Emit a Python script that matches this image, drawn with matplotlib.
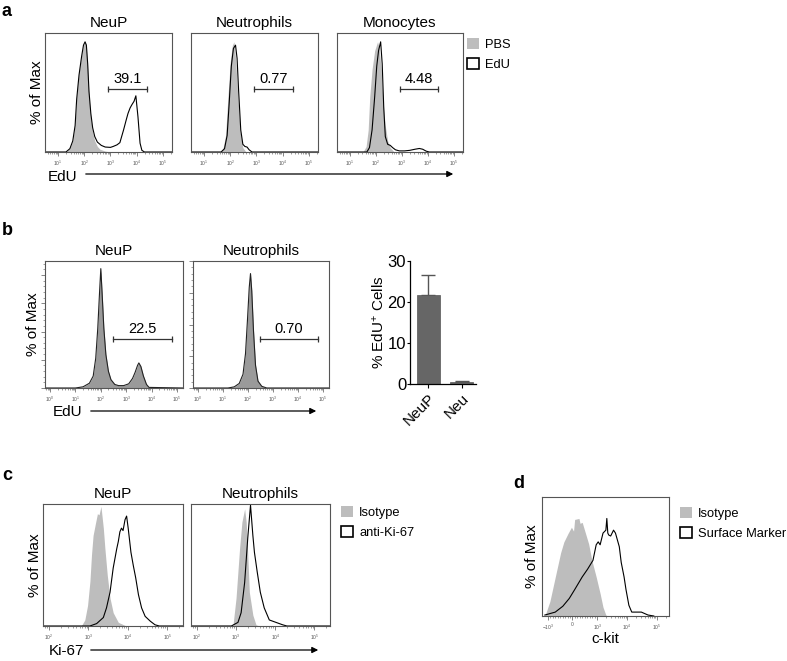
import numpy as np
import matplotlib
matplotlib.use("Agg")
import matplotlib.pyplot as plt
from matplotlib.patches import Patch
from matplotlib.ticker import FixedLocator, FixedFormatter, NullFormatter, MultipleLocator, AutoMinorLocator

plt.rcParams['font.family'] = ['Liberation Sans', 'DejaVu Sans']
plt.rcParams['mathtext.fontset'] = 'custom'
plt.rcParams['mathtext.rm'] = 'Liberation Sans'
plt.rcParams['mathtext.it'] = 'Liberation Sans:italic'
plt.rcParams['mathtext.bf'] = 'Liberation Sans:bold'

W, H = 787, 661

# ---- panel a: EdU (log10 position), % of max ----
a_neup_pbs_x = [0.5, 1.3, 1.45, 1.56, 1.65, 1.71, 1.8, 1.9, 1.97, 2.03, 2.08, 2.13, 2.18, 2.25, 2.32, 2.4, 2.5, 2.6, 2.8, 3.0, 5.35]
a_neup_pbs_y = [0, 0, 3, 10, 25, 50, 72, 88, 97, 100, 96, 78, 50, 30, 18, 10, 5, 2.5, 0.8, 0, 0]
a_neup_edu_x = [0.5, 1.3, 1.45, 1.56, 1.65, 1.71, 1.8, 1.9, 1.97, 2.03, 2.08, 2.13, 2.18, 2.25, 2.32, 2.4, 2.5, 2.65, 2.8, 3.0, 3.1, 3.25,
                3.36, 3.5, 3.6, 3.67, 3.75, 3.82, 3.9, 3.97, 4.05, 4.13, 4.2, 4.3, 5.35]
a_neup_edu_y = [0, 0, 3, 10, 24, 48, 70, 87, 97, 100, 97, 80, 55, 35, 22, 14, 9, 6, 4.5, 4.2, 5, 6.5,
                8.5, 20, 29, 35, 40, 43, 46, 51, 32, 8, 1.5, 0, 0]
a_neu_pbs_x = [0.5, 1.6, 1.72, 1.82, 1.91, 2.0, 2.08, 2.14, 2.2, 2.29, 2.38, 2.48, 2.6, 5.35]
a_neu_pbs_y = [0, 0, 3, 15, 50, 82, 97, 100, 85, 50, 18, 4, 0, 0]
a_neu_edu_x = [0.5, 1.65, 1.78, 1.88, 1.96, 2.04, 2.12, 2.2, 2.26, 2.32, 2.4, 2.48, 2.56, 2.64, 2.72, 2.83, 5.35]
a_neu_edu_y = [0, 0, 3, 15, 45, 78, 94, 97, 85, 55, 20, 7, 5, 4.5, 2, 0, 0]
a_mono_pbs_x = [0.5, 1.5, 1.62, 1.7, 1.76, 1.85, 1.95, 2.06, 2.12, 2.2, 2.26, 2.35, 2.45, 2.55, 2.7, 5.35]
a_mono_pbs_y = [0, 0, 5, 20, 50, 75, 92, 100, 95, 75, 50, 25, 10, 4, 0, 0]
a_mono_edu_x = [0.5, 1.65, 1.75, 1.85, 1.95, 2.03, 2.1, 2.18, 2.24, 2.3, 2.36, 2.45, 2.55, 2.64, 2.75, 2.9, 3.1, 3.3,
                3.5, 3.67, 3.8, 3.93, 4.05, 5.35]
a_mono_edu_y = [0, 0, 4, 20, 50, 78, 92, 100, 80, 40, 14, 7, 6, 4, 2, 1, 1, 1.5, 2.5, 3.2, 2.5, 0.8, 0, 0]
a_titles = ["NeuP", "Neutrophils", "Monocytes"]
a_gates = ["39.1", "0.77", "4.48"]

# ---- panel b ----
b_neup_x = [-0.2, 1.0, 1.3, 1.55, 1.7, 1.8, 1.88, 1.95, 2.0, 2.05, 2.12, 2.2, 2.3, 2.4, 2.55, 2.7, 2.9, 3.1, 3.25,
            3.35, 3.45, 3.5, 3.58, 3.68, 3.8, 3.9, 5.24]
b_neup_y = [0, 0, 1, 4, 10, 25, 50, 80, 100, 80, 50, 28, 14, 7, 3, 2, 2, 3.5, 8, 13, 19, 21, 18, 10, 3, 0.5, 0]
b_neu_x = [-0.2, 1.2, 1.45, 1.65, 1.8, 1.9, 1.98, 2.05, 2.1, 2.15, 2.22, 2.3, 2.4, 2.55, 2.75, 5.24]
b_neu_y = [0, 0, 1, 4, 12, 30, 60, 88, 100, 85, 50, 20, 6, 1.5, 0, 0]
b_titles = ["NeuP", "Neutrophils"]
b_gates = ["22.5", "0.70"]
bar_labels = ["NeuP", "Neu"]
bar_values = [21.7, 0.6]
bar_errors = [4.9, 0.25]

# ---- panel c: Ki-67 ----
c_neup_iso_x = [1.85, 2.82, 2.91, 2.98, 3.04, 3.08, 3.12, 3.18, 3.23, 3.27, 3.32, 3.38, 3.42, 3.48, 3.55, 3.63, 3.76, 3.93, 4.05, 5.4]
c_neup_iso_y = [0, 0, 5, 17, 37, 59, 75, 85, 93, 92, 99, 81, 64, 42, 23, 11, 3, 0.5, 0, 0]
c_neup_ki_x = [1.85, 3.04, 3.21, 3.38, 3.46, 3.55, 3.63, 3.72, 3.76, 3.8, 3.84, 3.88, 3.93, 3.97, 4.01, 4.08, 4.14,
               4.2, 4.27, 4.35, 4.44, 4.57, 4.69, 4.8, 5.4]
c_neup_ki_y = [0, 0, 2, 7, 15, 28, 48, 64, 70, 78, 81, 79, 88, 91, 81, 61, 50, 40, 26, 15, 8, 4, 1, 0, 0]
c_neu_iso_x = [1.85, 2.92, 3.0, 3.09, 3.15, 3.22, 3.26, 3.3, 3.34, 3.43, 3.51, 3.6, 5.4]
c_neu_iso_y = [0, 0, 23, 64, 86, 97, 86, 59, 28, 9, 1, 0, 0]
c_neu_ki_x = [1.85, 2.88, 3.05, 3.13, 3.22, 3.3, 3.37, 3.43, 3.47, 3.54, 3.62, 3.72, 3.85, 4.02, 4.19, 4.3, 5.4]
c_neu_ki_y = [0, 0, 3, 11, 36, 73, 100, 75, 61, 45, 28, 15, 5, 3, 1, 0, 0]
c_titles = ["NeuP", "Neutrophils"]

# ---- panel d: c-kit (fluorescence), % of max ----
d_iso_x = [-1250, -913, -696, -478, -348, -174, -43, 43, 87, 261, 304, 391, 522, 652, 783, 957, 1250, 1563, 1950, 2265]
d_iso_y = [0, 15, 40, 65, 76, 85, 91, 87, 99, 100, 95, 96, 85, 74, 57, 40, 23, 9, 1, 0]
d_sm_x = [-1250, -696, -391, -130, 87, 391, 609, 826, 957, 1077, 1250, 1563, 1950, 2100, 2265, 2440, 2830, 3530, 4100,
          5520, 6400, 8000, 9290, 11600, 14500, 30500, 51000, 80000]
d_sm_y = [1, 4, 10, 18, 27, 40, 48, 57, 73, 76, 73, 85, 88, 100, 85, 83, 82, 88, 85,
          71, 55, 40, 27, 11, 4, 4, 1, 0]

ISO_GRAY = '#bdbdbd'
B_GRAY = '#9a9a9a'
SPINE = '#555555'


def px_rect(x0, y0, x1, y1):
    return [x0 / W, 1 - y1 / H, (x1 - x0) / W, (y1 - y0) / H]


def flow_axes(fig, rect, xlo, xhi, decades, ylim):
    ax = fig.add_axes(px_rect(*rect))
    ax.set_xscale('log')
    ax.set_xlim(10 ** xlo, 10 ** xhi)
    ax.set_ylim(0, ylim)
    ax.xaxis.set_major_locator(FixedLocator([10.0 ** d for d in decades]))
    ax.xaxis.set_major_formatter(FixedFormatter([r'$10^{%d}$' % d for d in decades]))
    minors = [m * 10.0 ** d for d in range(-1, 6) for m in range(2, 10)]
    ax.xaxis.set_minor_locator(FixedLocator(minors))
    ax.xaxis.set_minor_formatter(NullFormatter())
    ax.tick_params(axis='x', which='major', length=3, width=0.5, labelsize=3.5, pad=1.5, colors=SPINE)
    ax.tick_params(axis='x', which='minor', length=1.5, width=0.4, colors=SPINE)
    ax.set_yticks([])
    for s in ax.spines.values():
        s.set_color(SPINE)
        s.set_linewidth(0.8)
    return ax


def gate(ax, x0, x1, y, label, dy=3):
    ax.plot([10 ** x0, 10 ** x1], [y, y], color='#333333', lw=0.9)
    ax.plot([10 ** x0, 10 ** x1], [y, y], ls='none', marker='|', ms=5, mew=0.9, color='#333333')
    ax.annotate(label, xy=(10 ** ((x0 + x1) / 2), y), xytext=(0, dy), textcoords='offset points',
                ha='center', va='bottom', fontsize=10.5)


def fig_arrow(fig, x0, x1, y):
    fig.add_artist(matplotlib.patches.FancyArrowPatch(
        (x0 / W, 1 - y / H), (x1 / W, 1 - y / H), transform=fig.transFigure,
        arrowstyle='-|>', mutation_scale=9, lw=0.9, color='black'))


fig = plt.figure(figsize=(W / 100, H / 100), dpi=100)

# ---------------- panel a ----------------
a_rects = [(45, 33, 172, 152), (191, 33, 318, 152), (337, 33, 463, 152)]
a_data = [(a_neup_pbs_x, a_neup_pbs_y, a_neup_edu_x, a_neup_edu_y),
          (a_neu_pbs_x, a_neu_pbs_y, a_neu_edu_x, a_neu_edu_y),
          (a_mono_pbs_x, a_mono_pbs_y, a_mono_edu_x, a_mono_edu_y)]
for i, (rect, d) in enumerate(zip(a_rects, a_data)):
    ax = flow_axes(fig, rect, 0.5, 5.35, [1, 2, 3, 4, 5], 108)
    ax.fill_between(10 ** np.array(d[0]), d[1], color=ISO_GRAY, lw=0)
    ax.plot(10 ** np.array(d[2]), d[3], color='black', lw=0.8)
    gate(ax, 2.92, 4.4, 57, a_gates[i], dy=2)
    ax.set_title(a_titles[i], fontsize=11, pad=4)
    if i == 0:
        ax.set_ylabel('% of Max', fontsize=11, labelpad=0.5)

fig.legend([Patch(facecolor=ISO_GRAY, edgecolor='none'), Patch(facecolor='white', edgecolor='black', lw=1.2)],
           ['PBS', 'EdU'], loc='upper left', bbox_to_anchor=(467 / W, 1 - 38 / H), frameon=False,
           handlelength=0.9, handleheight=0.9, handletextpad=0.5, labelspacing=0.55, fontsize=9.3,
           borderpad=0, borderaxespad=0)
fig.text(48 / W, 1 - 177 / H, 'EdU', fontsize=11, va='center')
fig_arrow(fig, 83, 456, 174)
fig.text(2 / W, 1 - 11 / H, 'a', fontsize=13, fontweight='bold', va='center')

# ---------------- panel b ----------------
b_rects = [(45, 261, 183, 388), (193, 261, 329, 388)]
b_data = [(b_neup_x, b_neup_y), (b_neu_x, b_neu_y)]
b_ylims = [106.4, 111]
b_nticks = [4.5, 4]
for i, (rect, d) in enumerate(zip(b_rects, b_data)):
    ax = flow_axes(fig, rect, -0.2, 5.24, [0, 1, 2, 3, 4, 5], b_ylims[i])
    ax.fill_between(10 ** np.array(d[0]), d[1], color=B_GRAY, lw=0)
    ax.plot(10 ** np.array(d[0]), d[1], color='#222222', lw=0.8)
    gate(ax, 2.48, 4.8, 0.386 * b_ylims[i], b_gates[i], dy=2)
    ax.set_title(b_titles[i], fontsize=11, pad=4)
    ax.yaxis.set_major_locator(MultipleLocator(b_ylims[i] / b_nticks[i]))
    ax.yaxis.set_minor_locator(AutoMinorLocator(5))
    ax.yaxis.set_major_formatter(NullFormatter())
    ax.tick_params(axis='y', which='major', length=3, width=0.5, colors=SPINE)
    ax.tick_params(axis='y', which='minor', length=1.5, width=0.4, colors=SPINE)
    if i == 0:
        ax.set_ylabel('% of Max', fontsize=11, labelpad=-3)

fig.text(53 / W, 1 - 412 / H, 'EdU', fontsize=11, va='center')
fig_arrow(fig, 88, 319, 411)
fig.text(2 / W, 1 - 230 / H, 'b', fontsize=13, fontweight='bold', va='center')

axb = fig.add_axes(px_rect(410, 261, 476, 384))
pos = np.arange(len(bar_labels))
axb.bar(pos, bar_values, width=0.69, color='#666666', edgecolor='#555555', lw=0.5, zorder=2)
axb.errorbar(pos, bar_values, yerr=[[0, 0], bar_errors], fmt='none', ecolor='#555555',
             elinewidth=1, capsize=5, capthick=1, zorder=1)
axb.set_xlim(-0.55, 1.42)
axb.set_ylim(0, 30)
axb.set_yticks([0, 10, 20, 30])
axb.set_xticks(pos)
axb.set_xticklabels(bar_labels, rotation=45, ha='right', rotation_mode='anchor', fontsize=11)
axb.tick_params(axis='y', labelsize=12, length=2.2, width=0.8, pad=0.5)
axb.tick_params(axis='x', length=3, width=0.8, pad=2)
axb.spines['top'].set_visible(False)
axb.spines['right'].set_visible(False)
for s in ['left', 'bottom']:
    axb.spines[s].set_linewidth(0.9)
axb.set_ylabel('% EdU$^{+}$ Cells', fontsize=11, labelpad=0.5)

# ---------------- panel c ----------------
c_rects = [(43, 504, 183, 626), (191, 504, 330, 626)]
c_data = [(c_neup_iso_x, c_neup_iso_y, c_neup_ki_x, c_neup_ki_y),
          (c_neu_iso_x, c_neu_iso_y, c_neu_ki_x, c_neu_ki_y)]
for i, (rect, d) in enumerate(zip(c_rects, c_data)):
    ax = flow_axes(fig, rect, 1.85, 5.4, [2, 3, 4, 5], 101)
    ax.fill_between(10 ** np.array(d[0]), d[1], color=ISO_GRAY, lw=0)
    ax.plot(10 ** np.array(d[2]), d[3], color='black', lw=0.8)
    ax.set_title(c_titles[i], fontsize=11, pad=4)
    if i == 0:
        ax.set_ylabel('% of Max', fontsize=11, labelpad=0.5)

fig.legend([Patch(facecolor=ISO_GRAY, edgecolor='none'), Patch(facecolor='white', edgecolor='black', lw=1.2)],
           ['Isotype', 'anti-Ki-67'], loc='upper left', bbox_to_anchor=(341 / W, 1 - 506 / H), frameon=False,
           handlelength=0.9, handleheight=0.9, handletextpad=0.5, labelspacing=0.55, fontsize=9.3,
           borderpad=0, borderaxespad=0)
fig.text(49 / W, 1 - 651 / H, 'Ki-67', fontsize=11, va='center')
fig_arrow(fig, 88, 321, 650)
fig.text(2 / W, 1 - 475 / H, 'c', fontsize=13, fontweight='bold', va='center')

# ---------------- panel d ----------------
axd = fig.add_axes(px_rect(542, 497, 669, 616))
axd.set_xscale('symlog', linthresh=1000, linscale=0.75)
axd.set_xlim(-1560, 2.6e5)
axd.set_ylim(0, 122)
axd.fill_between(d_iso_x, d_iso_y, color=ISO_GRAY, lw=0)
axd.plot(d_sm_x, d_sm_y, color='black', lw=0.8)
d_ticks = [-1000, 0, 1000, 10000, 100000]
axd.xaxis.set_major_locator(FixedLocator(d_ticks))
axd.xaxis.set_major_formatter(FixedFormatter([r'$-10^{3}$', '0', r'$10^{3}$', r'$10^{4}$', r'$10^{5}$']))
d_minor = [-m * 100 for m in range(1, 10)] + [m * 100 for m in range(1, 10)] + \
          [m * 10.0 ** k for k in (3, 4) for m in range(2, 10)] + [2e5]
axd.xaxis.set_minor_locator(FixedLocator(d_minor))
axd.xaxis.set_minor_formatter(NullFormatter())
axd.tick_params(axis='x', which='major', length=3, width=0.5, labelsize=3.5, pad=1.5, colors=SPINE)
axd.tick_params(axis='x', which='minor', length=1.5, width=0.4, colors=SPINE)
axd.set_yticks([])
for s in axd.spines.values():
    s.set_color(SPINE)
    s.set_linewidth(0.8)
axd.set_ylabel('% of Max', fontsize=11, labelpad=2.5)
axd.set_xlabel('c-kit', fontsize=11, labelpad=0)

fig.legend([Patch(facecolor=ISO_GRAY, edgecolor='none'), Patch(facecolor='white', edgecolor='black', lw=1.2)],
           ['Isotype', 'Surface Marker'], loc='upper left', bbox_to_anchor=(680 / W, 1 - 507 / H), frameon=False,
           handlelength=0.9, handleheight=0.9, handletextpad=0.5, labelspacing=0.55, fontsize=9.3,
           borderpad=0, borderaxespad=0)
fig.text(513 / W, 1 - 484 / H, 'd', fontsize=13, fontweight='bold', va='center')

fig.savefig('out.png', dpi=100)
